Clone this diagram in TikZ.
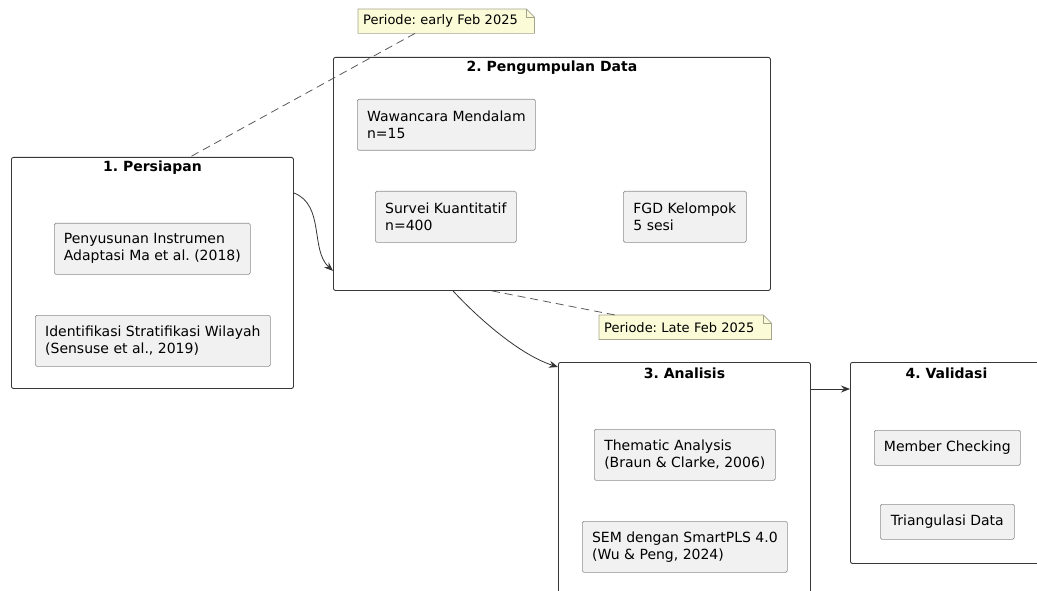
\documentclass[tikz,border=0pt]{standalone}
\usepackage{fontspec}
\setmainfont{DejaVu Sans}
\usepackage{xcolor}
\usetikzlibrary{arrows.meta,positioning,calc}
\frenchspacing

\definecolor{itemfill}{HTML}{F1F1F1}
\definecolor{itemline}{HTML}{8E8E8E}
\definecolor{notefill}{HTML}{FBFBD7}
\definecolor{noteline}{HTML}{A4A48C}
\definecolor{phaseline}{HTML}{383838}

\begin{document}
\begin{tikzpicture}[
  x=1pt, y=-1pt,
  phase/.style={rectangle, draw=phaseline, line width=0.9pt, rounded corners=2pt, anchor=north west, inner sep=0pt},
  title/.style={font=\bfseries\fontsize{14}{17}\selectfont},
  item/.style={rectangle, draw=itemline, fill=itemfill, line width=0.7pt, rounded corners=1.5pt, anchor=north west, align=left, inner sep=0pt, font=\fontsize{14}{17}\selectfont},
  note/.style={rectangle, fill=notefill, anchor=north west, inner xsep=5pt, inner ysep=0pt, minimum height=24pt, align=left, font=\fontsize{13}{16}\selectfont},
  fold/.style={draw=noteline, line width=0.7pt},
  arrow/.style={-{Stealth[length=9pt,width=7pt,inset=3pt]}, line width=0.8pt, black!80},
  link/.style={dash pattern=on 8pt off 5pt, line width=0.8pt, black!65}
]
\useasboundingbox (0,0) rectangle (1037,591);
\clip (0,0) rectangle (1037,591);

% Phases
\node[phase, minimum width=282pt, minimum height=231pt] (prep) at (11,157) {};
\node[phase, minimum width=437pt, minimum height=233pt] (collect) at (333,57) {};
\node[phase, minimum width=252pt, minimum height=260pt] (analysis) at (558,362) {};
\node[phase, minimum width=200pt, minimum height=201pt] (valid) at (850,362) {};

\node[title] (prept) at ([yshift=-11pt]prep.north) {1. Persiapan};
\node[title] (collectt) at ([yshift=-11pt]collect.north) {2. Pengumpulan Data};
\node[title] (analysist) at ([yshift=-11pt]analysis.north) {3. Analisis};
\node[title] (validt) at ([xshift=-4pt,yshift=-11pt]valid.north) {4. Validasi};

% Steps
\node[item, minimum width=196pt, minimum height=51pt] (instr) at (54,223) {Penyusunan Instrumen\\Adaptasi Ma et al. (2018)};
\node[item, minimum width=235pt, minimum height=51pt] (strat) at (35,315) {Identifikasi Stratifikasi Wilayah\\(Sensuse et al., 2019)};
\node[item, minimum width=178pt, minimum height=51pt] (interview) at (357,99) {Wawancara Mendalam\\n=15};
\node[item, minimum width=141pt, minimum height=51pt] (survey) at (375,191) {Survei Kuantitatif\\n=400};
\node[item, minimum width=123pt, minimum height=51pt] (fgd) at (623,191) {FGD Kelompok\\5 sesi};
\node[item, minimum width=181pt, minimum height=51pt] (thematic) at (594,429) {Thematic Analysis\\(Braun \& Clarke, 2006)};
\node[item, minimum width=205pt, minimum height=51pt] (sem) at (582,521) {SEM dengan SmartPLS 4.0\\(Wu \& Peng, 2024)};
\node[item, minimum width=146pt, minimum height=35pt] (member) at (874,430) {Member Checking};
\node[item, minimum width=134pt, minimum height=35pt] (triang) at (880,504) {Triangulasi Data};

% Flow
\draw[arrow] ([yshift=-36pt]prep.north east) .. controls (325,205) and (310,250) .. ([yshift=20pt]collect.south west);
\draw[arrow] ([xshift=120pt]collect.south west) .. controls (478,318) and (520,355) .. ([yshift=-5pt]analysis.north west);
\draw[arrow] ([yshift=-27pt]analysis.north east) -- ([yshift=-27pt]valid.north west);

% Notes
\node[note, text width=166pt] (early) at (358,9) {Periode: early Feb 2025};
\node[note, text width=162pt] (late) at (599,315) {Periode: Late Feb 2025};
\foreach \n in {early, late} {
  \fill[white] ([xshift=-8pt]\n.north east) -- (\n.north east) -- ([yshift=-8pt]\n.north east) -- cycle;
  \draw[fold] (\n.north west) -- ([xshift=-8pt]\n.north east) -- ([yshift=-8pt]\n.north east)
    -- (\n.south east) -- (\n.south west) -- cycle;
  \draw[fold] ([xshift=-8pt]\n.north east) |- ([yshift=-8pt]\n.north east);
}

\draw[link] ([xshift=57pt]early.south west) -- ([xshift=179pt]prep.north west);
\draw[link] ([xshift=159pt]collect.south west) -- ([xshift=16pt]late.north west);

\end{tikzpicture}
\end{document}
